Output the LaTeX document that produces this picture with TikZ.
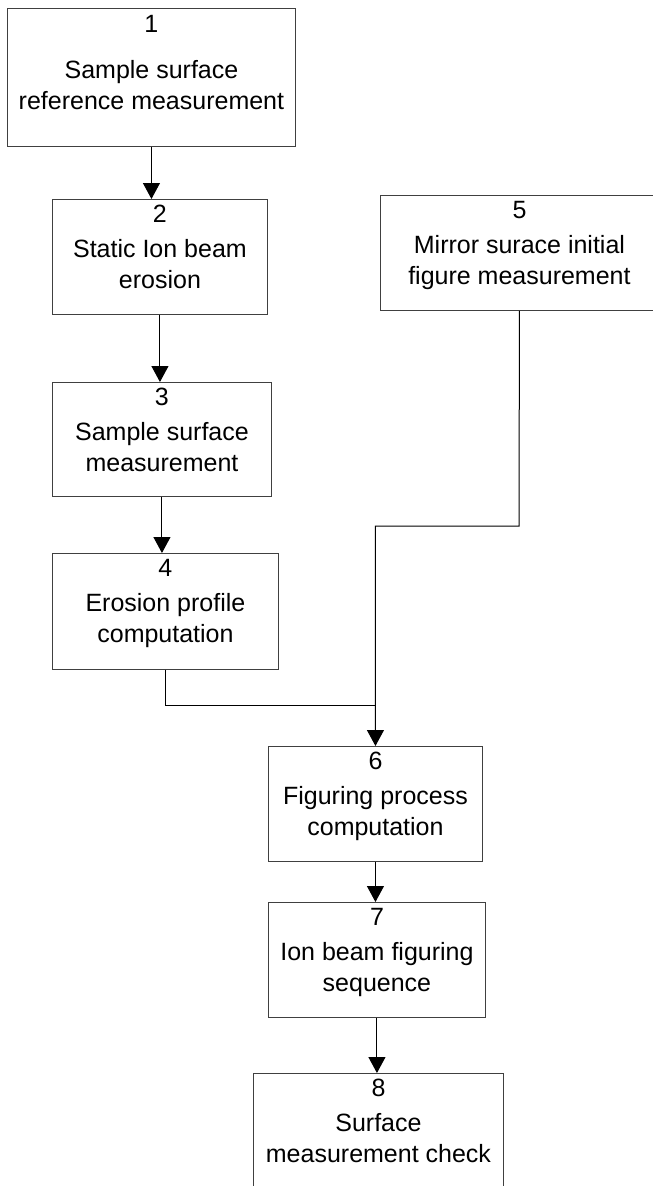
\documentclass[tikz,border=0pt]{standalone}
\usepackage{fontspec}
\setmainfont{Liberation Sans}
\usepackage{tikz}
\usetikzlibrary{arrows.meta}

\tikzset{
  box/.style={draw=black!75, line width=0.9pt, anchor=north west, inner sep=0pt},
  boxtext/.style={anchor=north, align=center, inner sep=0pt, font=\fontsize{25}{31}\selectfont},
  flow/.style={line width=1pt, -{Triangle[length=16pt,width=17pt]}}
}

\begin{document}
\begin{tikzpicture}[x=1pt,y=-1pt]
        \useasboundingbox (0,0) rectangle (653,1186);
        \clip (0,0) rectangle (653,1186);
        % Draw the boxes
        \node[box, minimum width=288, minimum height=138] (b1) at (7,8) {};
        \node[box, minimum width=215, minimum height=115] (b2) at (52,199) {};
        \node[box, minimum width=219, minimum height=114] (b3) at (52,382) {};
        \node[box, minimum width=226, minimum height=116] (b4) at (52,553) {};
        \node[box, minimum width=278, minimum height=115] (b5) at (380,195) {};
        \node[box, minimum width=214, minimum height=115] (b6) at (268,746) {};
        \node[box, minimum width=217, minimum height=115] (b7) at (268,902) {};
        \node[box, minimum width=250, minimum height=140] (b8) at (253,1073) {};
        % Add the texts
        \node[boxtext, yshift=-7pt] (t1) at (b1.north) {1\\[15pt]Sample surface\\reference measurement};
        \node[boxtext, yshift=-6pt] (t2) at (b2.north) {2\\[4pt]Static Ion beam\\erosion};
        \node[boxtext, yshift=-6pt] (t3) at (b3.north) {3\\[4pt]Sample surface\\measurement};
        \node[boxtext, yshift=-6pt] (t4) at (b4.north) {4\\[4pt]Erosion profile\\computation};
        \node[boxtext, yshift=-6pt] (t5) at (b5.north) {5\\[4pt]Mirror surace initial\\figure measurement};
        \node[boxtext, yshift=-6pt] (t6) at (b6.north) {6\\[4pt]Figuring process\\computation};
        \node[boxtext, yshift=-6pt] (t7) at (b7.north) {7\\[4pt]Ion beam figuring\\sequence};
        \node[boxtext, yshift=-6pt] (t8) at (b8.north) {8\\[4pt]Surface\\measurement check};
        % Connect the boxes
        \coordinate (bend4) at (375,705);
        \coordinate (bend5) at (519,526);
        \draw[flow] (b1.south) -- (b1.south |- b2.north);
        \draw[flow] (b2.south) -- (b2.south |- b3.north);
        \draw[flow] (b3.south) -- (b3.south |- b4.north);
        \draw[line width=1pt] (b4.south) |- (bend4);
        \draw[flow] (b5.south) -- (bend5) -| (b6.north);
        \draw[flow] (b6.south) -- (b6.south |- b7.north);
        \draw[flow] (b7.south) -- (b7.south |- b8.north);
    \end{tikzpicture}
\end{document}
